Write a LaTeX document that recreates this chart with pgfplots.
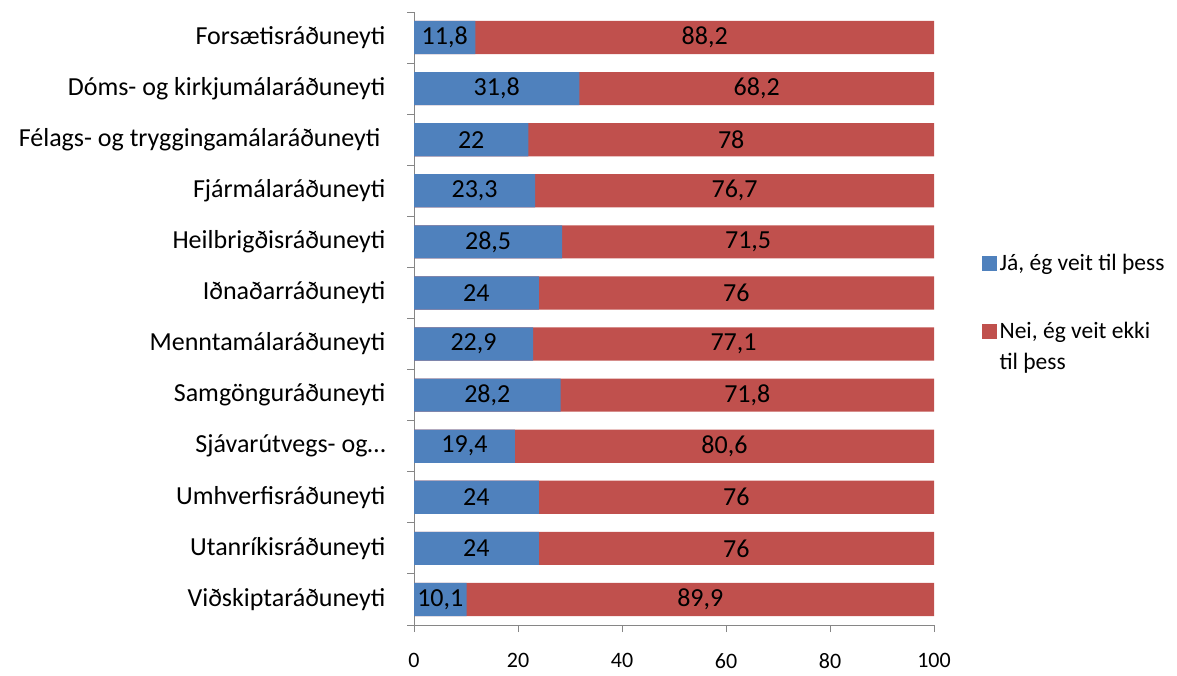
\documentclass[border=0pt]{standalone}
\usepackage{fontspec}
\setmainfont{Carlito}
\usepackage{pgfplots}
\usepackage{pgfplotstable}
\pgfplotsset{compat=1.18}
\definecolor{cblue}{HTML}{4F81BD}
\definecolor{cred}{HTML}{C0504D}
\definecolor{axgray}{HTML}{868686}
\pgfplotstableread{
y a b
0 11.8 88.2
1 31.8 68.2
2 22 78
3 23.3 76.7
4 28.5 71.5
5 24 76
6 22.9 77.1
7 28.2 71.8
8 19.4 80.6
9 24 76
10 24 76
11 10.1 89.9
}\data
\newcommand{\lbl}{\fontsize{26}{31}\selectfont}
\newcommand{\xlbl}{\fontsize{22}{27}\selectfont}
\newcommand{\lgd}{\fontsize{23.5}{31}\selectfont}
\begin{document}
\begin{tikzpicture}
\useasboundingbox (0,0) rectangle (1177pt,675pt);
\begin{axis}[
  at={(414pt,50pt)}, anchor=south west,
  scale only axis, width=520pt, height=613pt,
  xmin=0, xmax=100, ymin=-0.5, ymax=11.5, y dir=reverse,
  axis x line*=bottom, axis y line*=left,
  axis line style={axgray, line width=1pt, -},
  xtick={0,20,...,100},
  ytick={0,...,11},
  yticklabels={Forsætisráðuneyti, Dóms- og kirkjumálaráðuneyti, Félags- og tryggingamálaráðuneyti\hspace*{5pt}, Fjármálaráðuneyti, Heilbrigðisráðuneyti, Iðnaðarráðuneyti, Menntamálaráðuneyti, Samgönguráðuneyti, Sjávarútvegs- og…, Umhverfisráðuneyti, Utanríkisráðuneyti, Viðskiptaráðuneyti},
  minor ytick={-0.5,0.5,...,11.5},
  major y tick style={draw=none},
  tick align=outside,
  tick style={axgray, line width=1pt},
  major tick length=7pt, minor tick length=7pt,
  tick label style={text=black},
  yticklabel style={font=\lbl, xshift=-18pt},
  xticklabel style={font=\xlbl, yshift=-18pt},
  /pgf/number format/assume math mode=true,
  /pgf/number format/use comma,
  legend style={draw=none, fill=none, at={(1,0.5)}, anchor=west, xshift=48pt, yshift=6pt,
    font=\lgd, row sep=50pt, inner sep=0pt,
    nodes={inner sep=0pt, align=left},
    /tikz/every odd column/.append style={column sep=3pt}},
  legend cell align=left,
]
\addlegendimage{legend image code/.code={\fill[cblue] (0pt,-7pt) rectangle (14pt,7pt);}}
\addlegendentry{Já, ég veit til þess}
\addlegendimage{legend image code/.code={\fill[cred] (0pt,8.5pt) rectangle (14pt,22.5pt);}}
\addlegendentry{Nei, ég veit ekki\\til þess}
\addplot[xbar, bar width=0.65, bar shift=0pt, fill=cred, draw=none, forget plot]
  table[x expr=\thisrow{a}+\thisrow{b}, y=y]{\data};
\addplot[xbar, bar width=0.65, bar shift=0pt, fill=cblue, draw=none, forget plot]
  table[x=a, y=y]{\data};
\addplot[draw=none, mark=none, forget plot, nodes near coords, nodes near coords align={center},
  every node near coord/.append style={font=\lbl, text=black, anchor=center},
  point meta={\thisrow{a}}]
  table[x expr=\thisrow{a}/2, y=y]{\data};
\addplot[draw=none, mark=none, forget plot, nodes near coords, nodes near coords align={center},
  every node near coord/.append style={font=\lbl, text=black, anchor=center},
  point meta={\thisrow{b}}]
  table[x expr=\thisrow{a}+\thisrow{b}/2, y=y]{\data};
\end{axis}
\end{tikzpicture}
\end{document}
